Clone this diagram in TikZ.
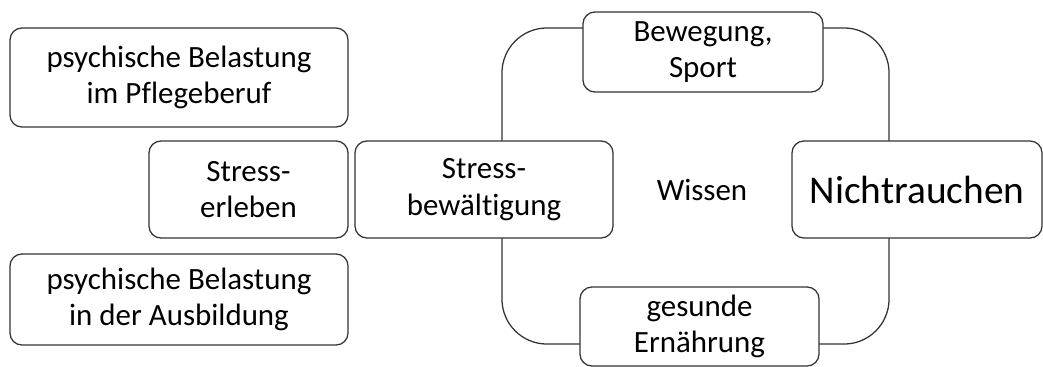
\documentclass[tikz,border=0pt]{standalone}
\usepackage{fontspec}
\setmainfont[Ligatures=NoCommon]{Carlito}

\tikzset{
  box/.style={draw=black!80, line width=0.9pt, fill=white, rounded corners=0.3cm,
              align=center, inner sep=0pt, font=\fontsize{22}{26}\selectfont},
  ring/.style={draw=black!80, line width=0.9pt, rounded corners=1.125cm}
}

\begin{document}
\begin{tikzpicture}[x=0.025cm, y=-0.025cm]
        \useasboundingbox (0,0) rectangle (1043,367);
        % loop behind the boxes
        \node [ring, minimum width=9.675cm, minimum height=7.9cm] (loop) at (695.5,186) {};
        % left column
        \node [box, minimum width=8.45cm, minimum height=2.475cm] (pflege) at (179,77.5)
              {psychische Belastung\\im Pflegeberuf};
        \node [box, minimum width=4.975cm, minimum height=2.425cm] (erleben) at (248.5,189.5)
              {Stress-\\erleben};
        \node [box, minimum width=8.45cm, minimum height=2.275cm] (ausbildung) at (179,299.5)
              {psychische Belastung\\in der Ausbildung};
        % loop
        \node [box, minimum width=6.45cm, minimum height=2.425cm] (bewaeltigung) at (484,189.5)
              {Stress-\\bewältigung};
        \node [box, minimum width=6cm, minimum height=2cm] (sport) at (703,52)
              {Bewegung,\\Sport};
        \node [box, minimum width=5.975cm, minimum height=1.975cm] (ernaehrung) at (699.5,326.5)
              {gesunde\\Ernährung};
        \node [box, minimum width=6.25cm, minimum height=2.425cm, font=\fontsize{28}{32}\selectfont]
              (nichtrauchen) at (917,189.5) {Nichtrauchen};
        \node [font=\fontsize{22}{26}\selectfont] (wissen) at (702,190) {Wissen};
    \end{tikzpicture}
\end{document}
